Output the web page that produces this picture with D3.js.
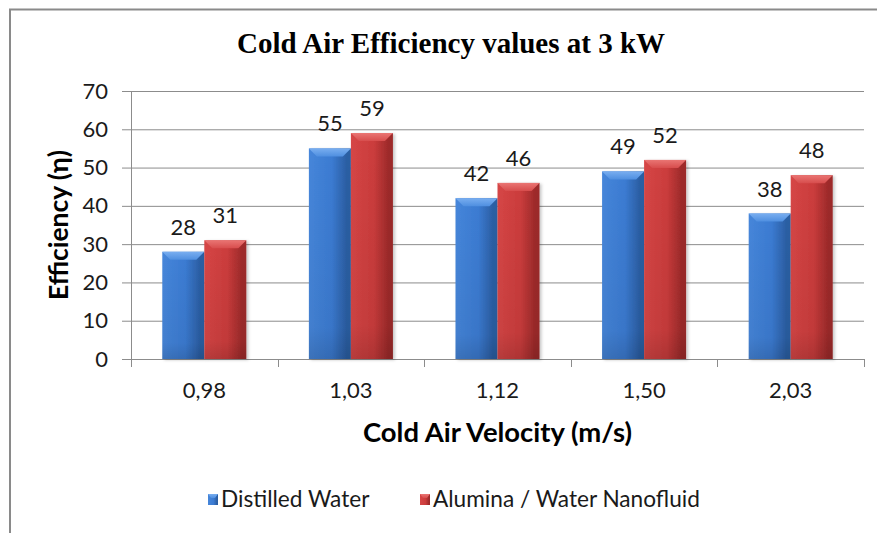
<!DOCTYPE html>
<html><head><meta charset="utf-8">
<script src="https://cdn.jsdelivr.net/npm/d3@7"></script>
<style>html,body{margin:0;padding:0;background:#fff;overflow:hidden;} svg{display:block}</style>
</head><body>
<svg id="chart" width="877" height="533"></svg>
<script>
// ---- data ----
const categories = ["0,98", "1,03", "1,12", "1,50", "2,03"];
const seriesNames = ["Distilled Water", "Alumina / Water Nanofluid"];
const distilledWater = [28, 55, 42, 49, 38];
const aluminaNanofluid = [31, 59, 46, 52, 48];
const yTickValues = [0, 10, 20, 30, 40, 50, 60, 70];
const titleText = "Cold Air Efficiency values at 3 kW";
const xTitleText = "Cold Air Velocity (m/s)";
const yTitleText = "Efficiency (η)";

const seriesValues = [distilledWater, aluminaNanofluid];
const table = categories.map((c, i) => ({
  cat: c,
  vals: seriesNames.map((s, k) => ({ series: s, k: k, v: seriesValues[k][i] }))
}));

const svg = d3.select("#chart");
const W = 877, H = 533;
const plot = { left: 131, right: 864, top: 91, bottom: 359 };
const SANS = "Lato, 'Open Sans', sans-serif";

function fit(sel, target) {
  const w = sel.node().getComputedTextLength();
  const fs = parseFloat(sel.attr("font-size"));
  sel.attr("font-size", (fs * target / w).toFixed(2));
}

// background + border
svg.append("rect").attr("width", W).attr("height", H).attr("fill", "#fff");
svg.append("path").attr("d", `M10,${H} V9.5 H${W}`).attr("fill", "none")
  .attr("stroke", "#8a8a8a").attr("stroke-width", 2);

// gradients
const defs = svg.append("defs");
const palettes = [
  { light: "#4686da", mid: "#3b7bd2", dark: "#2b5ea3", bevelTop: "#79aef0", bevelBot: "#4f8fe0" },
  { light: "#d64646", mid: "#cb3c3c", dark: "#9d2a2a", bevelTop: "#ea7573", bevelBot: "#d74d4d" }
];
palettes.forEach((p, k) => {
  const g = defs.append("linearGradient").attr("id", "body" + k).attr("x1", 0).attr("x2", 1).attr("y1", 0).attr("y2", 0);
  g.append("stop").attr("offset", "0%").attr("stop-color", p.light);
  g.append("stop").attr("offset", "55%").attr("stop-color", p.mid);
  g.append("stop").attr("offset", "90%").attr("stop-color", p.dark);
  g.append("stop").attr("offset", "100%").attr("stop-color", p.dark);
  const gv = defs.append("linearGradient").attr("id", "shade" + k).attr("x1", 0).attr("x2", 0).attr("y1", 0).attr("y2", 1);
  gv.append("stop").attr("offset", "0%").attr("stop-color", "#000").attr("stop-opacity", 0);
  gv.append("stop").attr("offset", "85%").attr("stop-color", "#000").attr("stop-opacity", 0.05);
  gv.append("stop").attr("offset", "100%").attr("stop-color", "#000").attr("stop-opacity", 0.15);
  const gb = defs.append("linearGradient").attr("id", "bevel" + k).attr("x1", 0).attr("x2", 0).attr("y1", 0).attr("y2", 1);
  gb.append("stop").attr("offset", "0%").attr("stop-color", p.bevelTop);
  gb.append("stop").attr("offset", "100%").attr("stop-color", p.bevelBot);
});
const shadow = defs.append("filter").attr("id", "shadow").attr("x", "-20%").attr("y", "-20%").attr("width", "150%").attr("height", "150%");
shadow.append("feDropShadow").attr("dx", 2).attr("dy", 1).attr("stdDeviation", 1.5).attr("flood-color", "#000").attr("flood-opacity", 0.22);

// scales
const x0 = d3.scaleBand().domain(categories).range([plot.left, plot.right]).padding(0);
const x1 = d3.scaleBand().domain(seriesNames).range([0, x0.bandwidth()]).paddingInner(0).paddingOuter(0.745);
const y = d3.scaleLinear().domain([0, 70]).range([plot.bottom, plot.top]);

// gridlines
const grid = svg.append("g").attr("transform", `translate(${plot.left},0)`)
  .call(d3.axisLeft(y).tickValues(yTickValues).tickSize(-(plot.right - plot.left)).tickFormat(""));
grid.select(".domain").remove();
grid.selectAll(".tick line").attr("stroke", "#8c8c8c").attr("stroke-width", 1);

// y axis
const yAxis = svg.append("g").attr("transform", `translate(${plot.left},0)`)
  .call(d3.axisLeft(y).tickValues(yTickValues).tickSize(9).tickPadding(14).tickFormat(d3.format("d")));
yAxis.select(".domain").attr("stroke", "#8c8c8c");
yAxis.selectAll(".tick line").attr("stroke", "#8c8c8c");
yAxis.selectAll(".tick text").attr("font-family", SANS).attr("font-size", 22).attr("fill", "#1a1a1a");

// x axis
const xAxis = svg.append("g").attr("transform", `translate(0,${plot.bottom})`)
  .call(d3.axisBottom(x0).tickSize(0).tickPadding(23));
xAxis.select(".domain").attr("stroke", "#8c8c8c").attr("d", `M${plot.left},0.5H${plot.right}`);
xAxis.selectAll(".tick text").attr("font-family", SANS).attr("font-size", 22).attr("fill", "#1a1a1a");
const bounds = categories.map(c => x0(c)).concat([x0.range()[1]]);
xAxis.selectAll(".btick").data(bounds).join("line").attr("class", "btick")
  .attr("x1", d => Math.round(d) + 0.5).attr("x2", d => Math.round(d) + 0.5)
  .attr("y1", 0).attr("y2", 8).attr("stroke", "#8c8c8c");

// bars
const groups = svg.append("g").selectAll("g").data(table).join("g")
  .attr("transform", d => `translate(${x0(d.cat)},0)`);
const bar = groups.selectAll("g.bar").data(d => d.vals).join("g").attr("class", "bar");
const bw = x1.bandwidth();
const bev = 8;
bar.append("rect")
  .attr("x", d => x1(d.series)).attr("y", d => y(d.v))
  .attr("width", bw).attr("height", d => y(0) - y(d.v))
  .attr("fill", d => `url(#body${d.k})`).attr("filter", "url(#shadow)");
bar.append("rect")
  .attr("x", d => x1(d.series)).attr("y", d => y(d.v))
  .attr("width", bw).attr("height", d => y(0) - y(d.v))
  .attr("fill", d => `url(#shade${d.k})`);
bar.append("path")
  .attr("d", d => {
    const xl = x1(d.series), xr = xl + bw, t = y(d.v);
    return `M${xl},${t}H${xr}L${xr - bev},${t + bev}H${xl + bev}Z`;
  })
  .attr("fill", d => `url(#bevel${d.k})`);
// data labels
bar.append("text")
  .attr("x", d => x1(d.series) + bw / 2).attr("y", d => y(d.v) - 17)
  .attr("text-anchor", "middle").attr("font-family", SANS).attr("font-size", 22)
  .attr("fill", "#1a1a1a").text(d => d.v);

// title
const t = svg.append("text").attr("x", 451).attr("y", 53).attr("text-anchor", "middle")
  .attr("font-family", "'Liberation Serif', 'Times New Roman', serif").attr("font-weight", "bold")
  .attr("font-size", 28).attr("fill", "#000").text(titleText);
fit(t, 428);

// axis titles
const xt = svg.append("text").attr("x", (plot.left + plot.right) / 2).attr("y", 442).attr("text-anchor", "middle")
  .attr("font-family", SANS).attr("font-weight", "bold").attr("font-size", 26).attr("fill", "#000").text(xTitleText);
fit(xt, 269);
const yt = svg.append("text").attr("transform", `translate(68,${(plot.top + plot.bottom) / 2}) rotate(-90)`)
  .attr("text-anchor", "middle").attr("font-family", SANS).attr("font-weight", "bold")
  .attr("font-size", 26).attr("fill", "#000").text(yTitleText);
fit(yt, 150);

// legend
const legendX = [208, 420];
const lg = svg.append("g").selectAll("g").data(seriesNames).join("g")
  .attr("transform", (d, i) => `translate(${legendX[i]},0)`);
lg.append("rect").attr("x", 0).attr("y", 494).attr("width", 10).attr("height", 11)
  .attr("fill", (d, i) => `url(#body${i})`);
lg.append("path").attr("d", "M0,494H10L7,498H3Z").attr("fill", (d, i) => `url(#bevel${i})`);
const ltxt = lg.append("text").attr("x", 13).attr("y", 507).attr("font-family", SANS)
  .attr("font-size", 22).attr("fill", "#1a1a1a").text(d => d);
const ref = ltxt.filter((d, i) => i === 1);
fit(ref, 267);
ltxt.attr("font-size", ref.attr("font-size"));
</script>
</body></html>
